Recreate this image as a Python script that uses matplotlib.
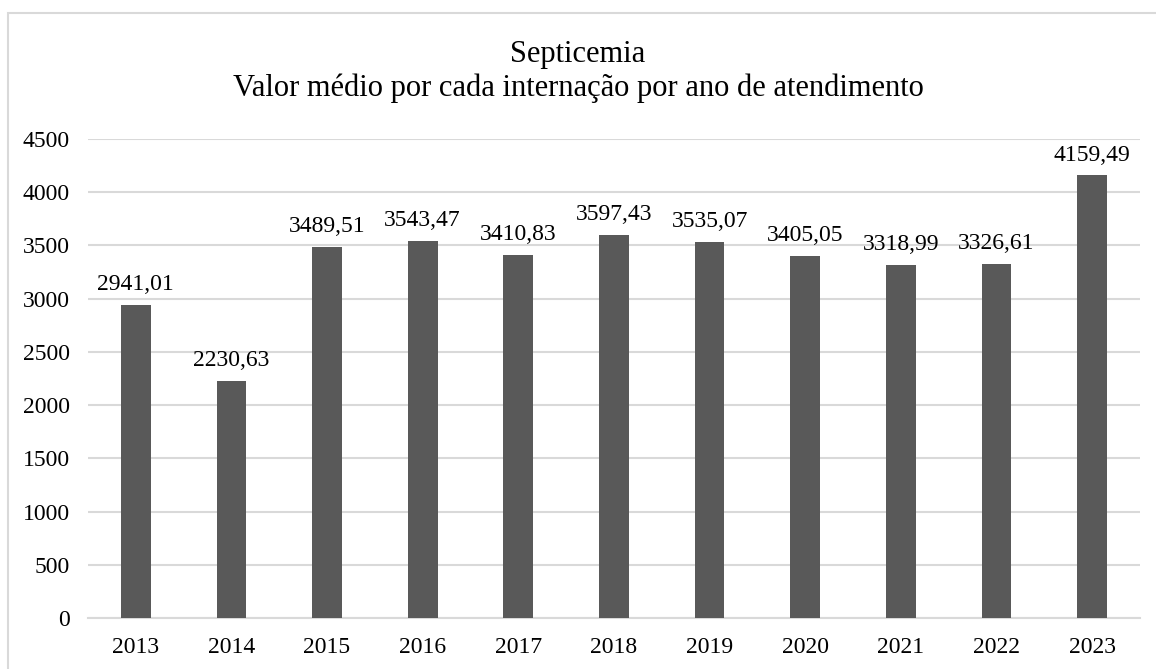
import matplotlib.pyplot as plt
from matplotlib.patches import Rectangle

anos = ["2013", "2014", "2015", "2016", "2017", "2018", "2019", "2020", "2021", "2022", "2023"]
valores = [2941.01, 2230.63, 3489.51, 3543.47, 3410.83, 3597.43, 3535.07, 3405.05, 3318.99, 3326.61, 4159.49]
yticks = [0, 500, 1000, 1500, 2000, 2500, 3000, 3500, 4000, 4500]

plt.rcParams['font.family'] = ['Liberation Serif', 'DejaVu Serif']

fig = plt.figure(figsize=(11.56, 6.69), dpi=100)
ax = fig.add_axes([0.0761, 0.0762, 0.91, 0.716])

# moldura externa
fig.patches.append(Rectangle((8 / 1156, -0.05), 1.0, 1 - 13 / 669 + 0.05,
                             transform=fig.transFigure, fill=False,
                             edgecolor="#d9d9d9", linewidth=1.5))

x = range(len(anos))
ax.bar(x, valores, width=0.31, color="#595959", zorder=3)
for xi, v in zip(x, valores):
    ax.annotate(f"{v:.2f}".replace(".", ","), (xi, v), xytext=(0, 7),
                textcoords="offset points", ha="center", va="bottom",
                fontsize=17, color="#000000")

ax.set_xlim(-0.5, len(anos) - 0.5)
ax.set_ylim(0, 4500)
ax.set_yticks(yticks)
ax.set_xticks(list(x))
ax.set_xticklabels(anos)
ax.tick_params(axis="both", length=0, labelsize=17, colors="#000000")
ax.tick_params(axis="y", pad=13)
ax.tick_params(axis="x", pad=14)
ax.yaxis.grid(True, color="#d9d9d9", linewidth=1.5, zorder=0)
for s in ["top", "right", "left"]:
    ax.spines[s].set_visible(False)
ax.spines["bottom"].set_color("#d9d9d9")
ax.spines["bottom"].set_linewidth(1.5)

fig.text(0.5, 1 - 62 / 669, "Septicemia", ha="center", va="baseline", fontsize=22)
fig.text(0.5, 1 - 96 / 669, "Valor médio por cada internação por ano de atendimento",
         ha="center", va="baseline", fontsize=22)

fig.savefig("out.png", dpi=100)
